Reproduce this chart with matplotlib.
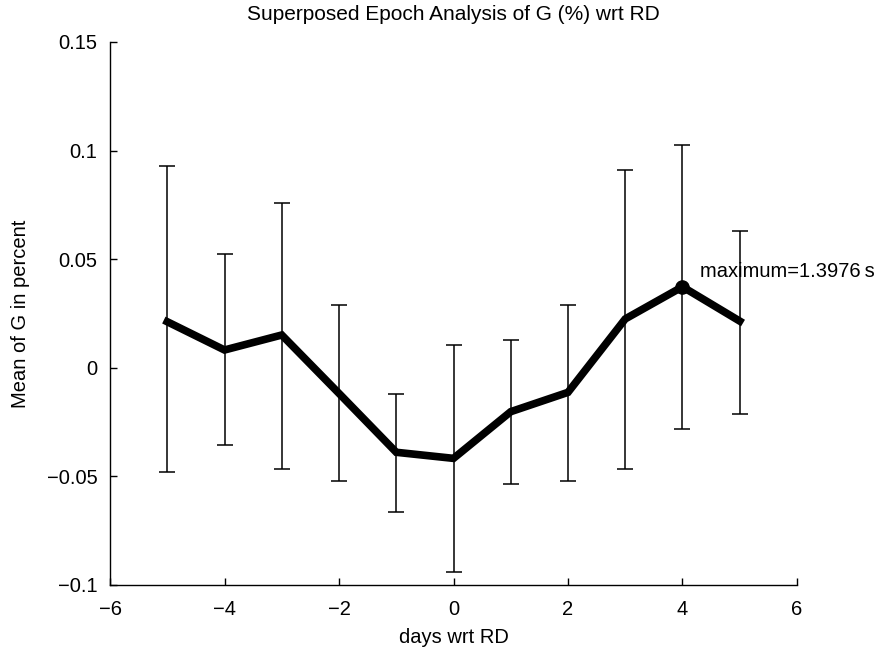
import numpy as np
import matplotlib
matplotlib.use("Agg")
import matplotlib.pyplot as plt

plt.rcParams["font.family"] = ["Liberation Sans", "DejaVu Sans"]

days = [-5, -4, -3, -2, -1, 0, 1, 2, 3, 4, 5]
mean_g = [0.0212, 0.0082, 0.0151, -0.0118, -0.0389, -0.0417, -0.0202, -0.0113, 0.0225, 0.0373, 0.0215]
upper = [0.0929, 0.0523, 0.0760, 0.0289, -0.0122, 0.0105, 0.0128, 0.0290, 0.0911, 0.1027, 0.0631]
lower = [-0.0481, -0.0354, -0.0464, -0.0520, -0.0662, -0.0939, -0.0536, -0.0523, -0.0467, -0.0282, -0.0213]

max_idx = int(np.argmax(mean_g))
max_label = "maximum=1.3976\u2009s"


def main():
    fs = 14.5
    fig = plt.figure(figsize=(8.88, 6.5), dpi=100)
    ax = fig.add_axes([0.1239, 0.1, 0.7736, 0.8354])

    x = np.array(days)
    m = np.array(mean_g)
    err = [m - np.array(lower), np.array(upper) - m]

    ax.errorbar(x, m, yerr=err, fmt="none", ecolor="black", elinewidth=1.1,
                capsize=6, capthick=1.1)
    ax.plot(x, m, color="black", linewidth=5.5, solid_joinstyle="miter")
    ax.plot(x[max_idx], m[max_idx], "o", color="black", markersize=9.5)
    ax.text(x[max_idx] + 0.3, 0.0445, max_label, fontsize=fs,
            ha="left", va="center")

    ax.set_xlim(-6, 6)
    ax.set_ylim(-0.1, 0.15)
    ax.set_xticks([-6, -4, -2, 0, 2, 4, 6])
    ax.set_yticks([-0.1, -0.05, 0, 0.05, 0.1, 0.15])
    ax.set_xticklabels(["\u22126", "\u22124", "\u22122", "0", "2", "4", "6"])
    ax.set_yticklabels(["\u22120.1", "\u22120.05", "0", "0.05", "0.1", "0.15"])
    ax.tick_params(direction="in", length=5, width=1, labelsize=fs)
    ax.tick_params(axis="x", pad=11)
    ax.tick_params(axis="y", pad=9)

    ax.spines["top"].set_visible(False)
    ax.spines["right"].set_visible(False)
    ax.spines["left"].set_linewidth(1)
    ax.spines["bottom"].set_linewidth(1)

    ax.set_xlabel("days wrt RD", fontsize=fs, labelpad=6)
    ax.set_ylabel("Mean of G in percent", fontsize=fs, labelpad=12)
    ax.set_title("Superposed Epoch Analysis of G (%) wrt RD", fontsize=15, pad=16)

    fig.savefig("out.png", dpi=100)
    plt.close(fig)


if __name__ == "__main__":
    main()
